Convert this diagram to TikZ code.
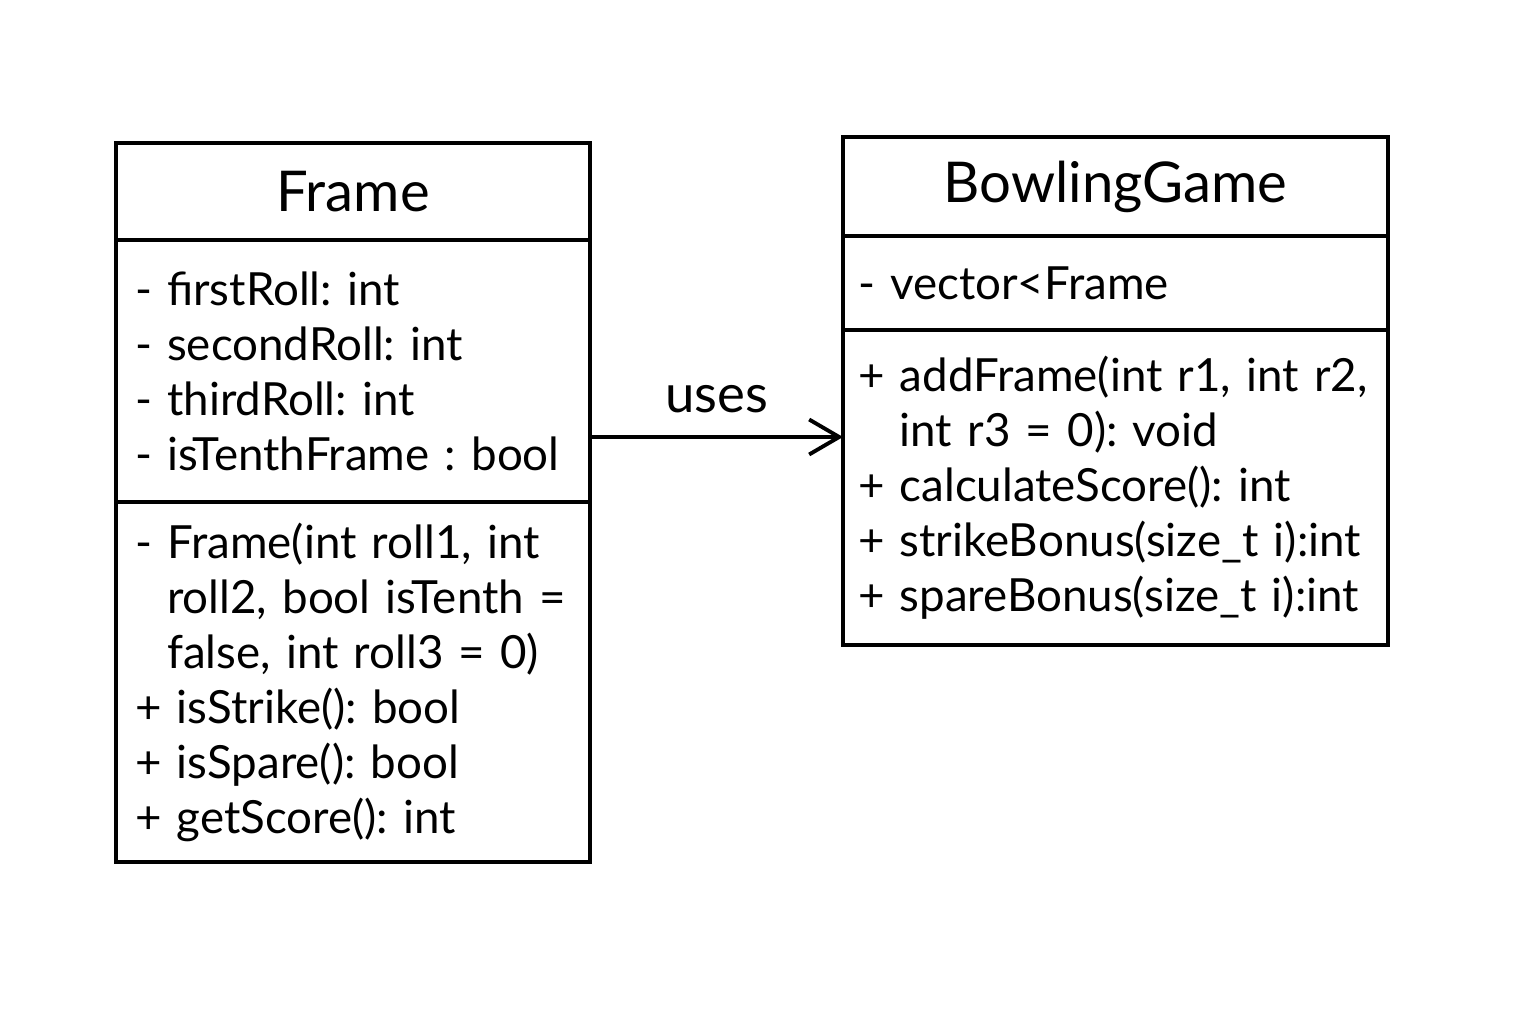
\documentclass[tikz,border=0pt]{standalone}
\usepackage{fontspec}
\setmainfont{Lato}
\usetikzlibrary{positioning, arrows.meta}
\frenchspacing

\begin{document}
\begin{tikzpicture}[
    compart/.style={draw, line width=1.1pt, anchor=north, inner xsep=0pt, inner ysep=0pt, outer sep=0pt,
      font=\fontsize{13}{15.65}\selectfont},
    classname/.style={compart, align=center, font=\fontsize{16}{20}\selectfont},
    members/.style={compart, align=left}
  ]
  \useasboundingbox (0,0) rectangle (15.36,10.24);

  % class Frame
  \node[classname, minimum width=4.74cm, minimum height=0.97cm] (ftitle) at (3.53,8.81) {Frame};
  \node[members, below=0pt of ftitle, text width=4.36cm, minimum width=4.74cm, minimum height=2.62cm] (fattr)
    {- firstRoll: int\\
     - secondRoll: int\\
     - thirdRoll: int\\
     - isTenthFrame : bool};
  \node[members, below=0pt of fattr, text width=4.36cm, minimum width=4.74cm, minimum height=3.60cm] (fmeth)
    {- Frame(int roll1, int\\
     \phantom{- }roll2, bool isTenth =\\
     \phantom{- }false, int roll3 = 0)\\
     + isStrike(): bool\\
     + isSpare(): bool\\
     + getScore(): int};

  % class BowlingGame
  \node[classname, minimum width=5.45cm, minimum height=0.99cm] (gtitle) at (11.155,8.87) {BowlingGame};
  \node[members, below=0pt of gtitle, text width=5.15cm, inner xsep=0.15cm, minimum width=5.45cm, minimum height=0.94cm] (gattr)
    {- vector<Frame};
  \node[members, below=0pt of gattr, text width=5.15cm, inner xsep=0.15cm, minimum width=5.45cm, minimum height=3.15cm] (gmeth)
    {+ addFrame(int r1, int r2,\\
     \phantom{+ }int r3 = 0): void\\
     + calculateScore(): int\\
     + strikeBonus(size\_t i):int\\
     + spareBonus(size\_t i):int};

  % association
  \coordinate (usesY) at (7.2,5.87);
  \draw[line width=1.1pt, -{Straight Barb[length=3mm, width=3.5mm]}]
    (fattr.east |- usesY) -- node[above=0.1cm, font=\fontsize{15}{18}\selectfont] (uses) {uses} (gmeth.west |- usesY);
\end{tikzpicture}
\end{document}
